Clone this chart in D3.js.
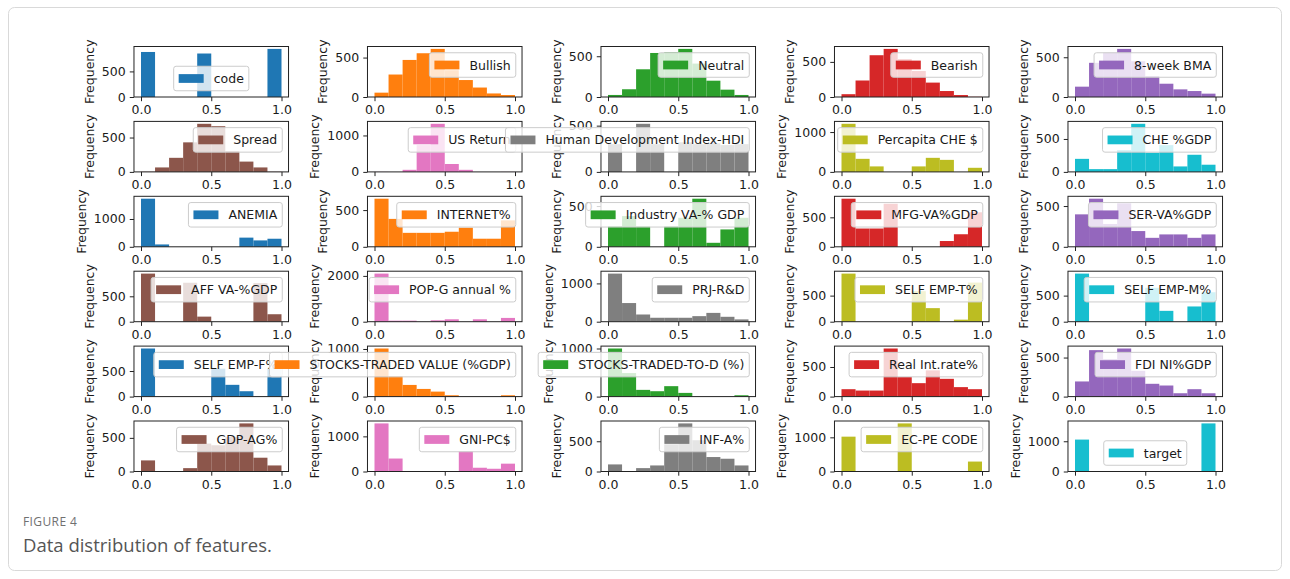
<!DOCTYPE html>
<html>
<head>
<meta charset="utf-8">
<script src="https://cdn.jsdelivr.net/npm/d3@7"></script>
<style>
  html, body { margin: 0; padding: 0; background: #fff; }
  svg { display: block; }
</style>
</head>
<body>
<svg id="fig" width="1290" height="579"></svg>
<script>
// ---- feature names (one histogram per feature, 6 rows x 5 columns) ----
const features = [
  "code", "Bullish", "Neutral", "Bearish", "8-week BMA",
  "Spread", "US Return", "Human Development Index-HDI", "Percapita CHE $", "CHE %GDP",
  "ANEMIA", "INTERNET%", "Industry VA-% GDP", "MFG-VA%GDP", "SER-VA%GDP",
  "AFF VA-%GDP", "POP-G annual %", "PRJ-R&D", "SELF EMP-T%", "SELF EMP-M%",
  "SELF EMP-F%", "STOCKS-TRADED VALUE (%GDP)", "STOCKS-TRADED-TO-D (%)", "Real Int.rate%", "FDI NI%GDP",
  "GDP-AG%", "GNI-PC$", "INF-A%", "EC-PE CODE", "target"
];

// ---- histogram bin edges (10 equal bins over the normalised range) ----
const binEdges = [0, 0.1, 0.2, 0.3, 0.4, 0.5, 0.6, 0.7, 0.8, 0.9, 1.0];

// ---- bin counts per feature ----
const codeCounts      = [880, 0, 0, 0, 850, 0, 0, 0, 0, 940];
const bullishCounts   = [55, 285, 470, 555, 610, 340, 215, 120, 45, 25];
const neutralCounts   = [25, 95, 340, 540, 550, 590, 410, 200, 90, 25];
const bearishCounts   = [40, 235, 595, 685, 540, 370, 205, 85, 28, 3];
const bmaCounts       = [130, 430, 555, 605, 450, 262, 167, 96, 75, 42];

const spreadCounts    = [3, 65, 205, 430, 700, 665, 300, 150, 65, 3];
const usReturnCounts  = [2, 0, 57, 735, 1320, 217, 57, 0, 0, 2];
const hdiCounts       = [300, 0, 520, 300, 0, 320, 300, 310, 290, 300];
const cheUsdCounts    = [1207, 328, 138, 0, 0, 138, 353, 302, 0, 103];
const cheGdpCounts    = [198, 42, 42, 330, 730, 292, 406, 83, 260, 109];

const anemiaCounts    = [1730, 85, 0, 0, 0, 0, 0, 330, 230, 290];
const internetCounts  = [655, 380, 190, 190, 190, 205, 260, 110, 110, 360];
const industryCounts  = [254, 377, 254, 0, 254, 356, 590, 49, 213, 356];
const mfgCounts       = [816, 310, 310, 730, 0, 0, 0, 98, 213, 586];
const serCounts       = [398, 590, 280, 533, 193, 110, 152, 152, 110, 152];

const affCounts       = [947, 0, 0, 767, 100, 0, 0, 0, 760, 147];
const popgCounts      = [2100, 45, 45, 0, 60, 105, 0, 105, 0, 165];
const prjCounts       = [1256, 487, 188, 103, 103, 103, 145, 230, 128, 60];
const selfTCounts     = [922, 0, 0, 0, 0, 585, 260, 0, 39, 750];
const selfMCounts     = [922, 0, 0, 0, 0, 650, 208, 0, 292, 565];

const selfFCounts     = [940, 0, 0, 0, 0, 546, 230, 105, 0, 560];
const stocksValCounts = [1010, 427, 245, 161, 105, 28, 0, 0, 0, 28];
const stocksTurnCounts= [1000, 490, 140, 112, 217, 77, 0, 0, 0, 28];
const realIntCounts   = [125, 102, 102, 812, 330, 227, 443, 300, 160, 125];
const fdiCounts       = [194, 595, 480, 616, 330, 164, 142, 43, 95, 43];

const gdpAgCounts     = [165, 0, 0, 50, 415, 390, 515, 715, 205, 90];
const gniCounts       = [1369, 369, 0, 0, 0, 0, 583, 107, 78, 223];
const infCounts       = [117, 0, 56, 100, 450, 795, 517, 239, 211, 100];
const ecpeCounts      = [1020, 0, 0, 0, 1408, 0, 0, 0, 0, 291];
const targetCounts    = [1055, 0, 0, 0, 0, 0, 0, 0, 0, 1590];

const allCounts = [
  codeCounts, bullishCounts, neutralCounts, bearishCounts, bmaCounts,
  spreadCounts, usReturnCounts, hdiCounts, cheUsdCounts, cheGdpCounts,
  anemiaCounts, internetCounts, industryCounts, mfgCounts, serCounts,
  affCounts, popgCounts, prjCounts, selfTCounts, selfMCounts,
  selfFCounts, stocksValCounts, stocksTurnCounts, realIntCounts, fdiCounts,
  gdpAgCounts, gniCounts, infCounts, ecpeCounts, targetCounts
];

// ---- x tick labels ----
const xTicks = [0, 0.5, 1.0];

// ---- colour cycle (tab10) ----
const palette = ["#1f77b4", "#ff7f0e", "#2ca02c", "#d62728", "#9467bd",
                 "#8c564b", "#e377c2", "#7f7f7f", "#bcbd22", "#17becf"];

// ---- legend placement per panel ----
const legendLoc = features.map(n => (n === "code" || n === "target") ? "lower center" : "upper right");

// ---- layout ----
const FS = 12.5;               // font size in px
const PT = 1.2;                // px per point
const colX0 = 141, colStep = 233.5, unit = 140.5;
const rowTop0 = 46.5, rowStep = 74.9, axH = 50.5;
const textColor = "#1a1a1a";
const font = "'DejaVu Sans', sans-serif";

const svg = d3.select("#fig");

// outer frame of the figure card
svg.append("rect")
  .attr("x", 8.5).attr("y", 7.5).attr("width", 1273).attr("height", 563)
  .attr("rx", 6).attr("fill", "#fff").attr("stroke", "#d9d9d9").attr("stroke-width", 1);

// step picker: roughly two y intervals per panel
function niceStep(raw) {
  const p = Math.pow(10, Math.floor(Math.log10(raw)));
  for (const m of [1, 2, 2.5, 5, 10]) if (m * p >= raw - 1e-9) return m * p;
  return 10 * p;
}

features.forEach((name, i) => {
  const counts = allCounts[i];
  const r = Math.floor(i / 5), c = i % 5;
  const color = palette[i % palette.length];
  const left = colX0 + c * colStep - 0.05 * unit;
  const width = 1.1 * unit;
  const top = rowTop0 + r * rowStep;
  const bottom = top + axH;

  const x = d3.scaleLinear().domain([-0.05, 1.05]).range([left, left + width]);
  const ymax = d3.max(counts) * 1.05;
  const y = d3.scaleLinear().domain([0, ymax]).range([bottom, top]);

  const g = svg.append("g").attr("class", "panel");

  // axes background
  g.append("rect").attr("x", left).attr("y", top).attr("width", width).attr("height", axH).attr("fill", "#fff");

  // histogram bars
  const bins = counts.map((v, k) => ({ v, x0: binEdges[k], x1: binEdges[k + 1] }));
  g.selectAll("rect.bar").data(bins.filter(d => d.v > 0)).join("rect")
    .attr("class", "bar")
    .attr("x", d => x(d.x0))
    .attr("width", d => x(d.x1) - x(d.x0))
    .attr("y", d => y(d.v))
    .attr("height", d => y(0) - y(d.v))
    .attr("fill", color);

  // spines
  g.append("rect").attr("x", left).attr("y", top).attr("width", width).attr("height", axH)
    .attr("fill", "none").attr("stroke", "#222").attr("stroke-width", 1);

  // x axis
  const xa = d3.axisBottom(x).tickValues(xTicks).tickFormat(d3.format(".1f"))
    .tickSize(3.5 * PT).tickPadding(3.5 * PT).tickSizeOuter(0);
  const gx = g.append("g").attr("transform", `translate(0,${bottom})`).call(xa);
  gx.select(".domain").remove();

  // y axis
  const step = niceStep(ymax / 2);
  const yTicks = d3.range(0, ymax + 1e-9, step);
  const ya = d3.axisLeft(y).tickValues(yTicks).tickFormat(d3.format("d"))
    .tickSize(3.5 * PT).tickPadding(3.5 * PT).tickSizeOuter(0);
  const gy = g.append("g").attr("transform", `translate(${left},0)`).call(ya);
  gy.select(".domain").remove();

  [gx, gy].forEach(a => {
    a.attr("font-family", font).attr("font-size", FS);
    a.selectAll("line").attr("stroke", "#222").attr("stroke-width", 1);
    a.selectAll("text").attr("fill", textColor);
  });

  // y label
  let maxW = 0;
  gy.selectAll("text").each(function () { maxW = Math.max(maxW, this.getComputedTextLength()); });
  const labelRight = left - 3.5 * PT - 3.5 * PT - maxW - 4 * PT;
  g.append("text")
    .attr("transform", `translate(${labelRight - 0.24 * FS},${(top + bottom) / 2}) rotate(-90)`)
    .attr("text-anchor", "middle")
    .attr("font-family", font).attr("font-size", FS).attr("fill", textColor)
    .text("Frequency");

  // legend
  const lg = g.append("g").attr("class", "legend");
  const box = lg.append("rect").attr("rx", 2.4).attr("ry", 2.4)
    .attr("fill", "#fff").attr("fill-opacity", 0.8)
    .attr("stroke", "#cccccc").attr("stroke-width", 1);
  const handle = lg.append("rect").attr("fill", color);
  const lt = lg.append("text").attr("font-family", font).attr("font-size", FS)
    .attr("fill", textColor).text(name);
  const tw = lt.node().getComputedTextLength();
  const pad = 0.4 * FS, hl = 2 * FS, htp = 0.8 * FS;
  const bw = pad + hl + htp + tw + pad, bh = 24.5;
  const bap = 0.5 * FS;
  let bx, by;
  if (legendLoc[i] === "lower center") {
    bx = (left + left + width) / 2 - bw / 2;
    by = bottom - bap - bh;
  } else {
    bx = left + width - bap - bw;
    by = top + bap;
  }
  box.attr("x", bx).attr("y", by).attr("width", bw).attr("height", bh);
  handle.attr("x", bx + pad).attr("y", by + bh / 2 - 0.35 * FS)
    .attr("width", hl).attr("height", 0.7 * FS);
  lt.attr("x", bx + pad + hl + htp).attr("y", by + bh / 2).attr("dy", "0.36em");
});

// caption
svg.append("text").attr("x", 23).attr("y", 526)
  .attr("font-family", "'Open Sans', sans-serif").attr("font-size", 12)
  .attr("letter-spacing", 0.4).attr("fill", "#707070").text("FIGURE 4");
svg.append("text").attr("x", 23).attr("y", 552)
  .attr("font-family", "'Open Sans', sans-serif").attr("font-size", 18.5)
  .attr("fill", "#555555").text("Data distribution of features.");
</script>
</body>
</html>
